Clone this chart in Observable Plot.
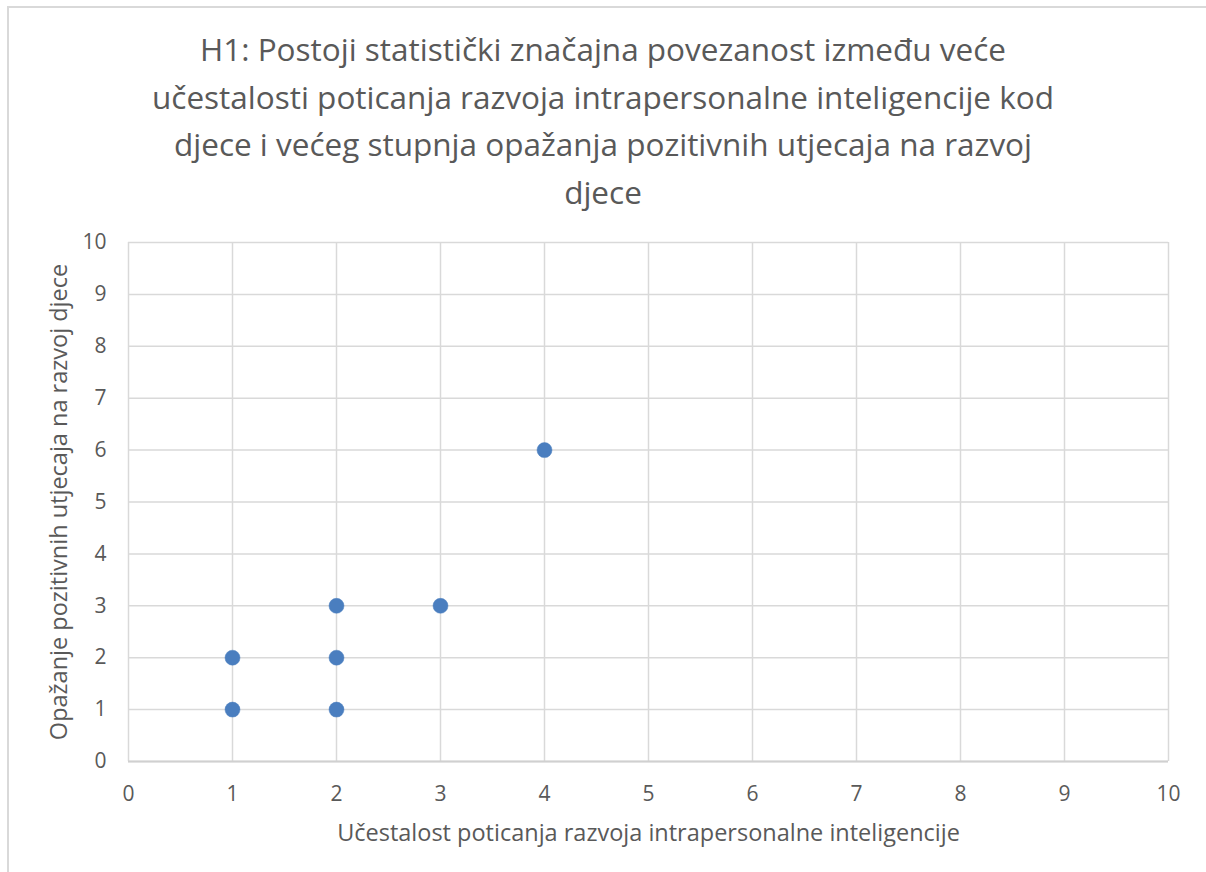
<!DOCTYPE html>
<html>
<head>
<meta charset="utf-8">
<script src="https://cdn.jsdelivr.net/npm/d3@7"></script>
<script src="https://cdn.jsdelivr.net/npm/@observablehq/plot@0.6"></script>
<style>
  html, body { margin: 0; padding: 0; background: #fff; overflow: hidden; }
  #page { position: relative; width: 1206px; height: 872px; overflow: hidden; background: #fff; }
  #frame { position: absolute; left: 7px; top: 6px; width: 1230px; height: 900px; border: 2px solid #d9d9d9; box-sizing: border-box; }
  #title { position: absolute; left: 0; top: 25px; width: 1206px; text-align: center;
           font-family: "Open Sans", sans-serif; font-size: 31.5px; line-height: 47.5px; color: #595959; }
  #chart { position: absolute; left: 0; top: 220px; }
</style>
</head>
<body>
<div id="page">
  <div id="frame"></div>
  <div id="title"></div>
  <div id="chart"></div>
</div>
<script>
const titleLines = [
  "H1: Postoji statistički značajna povezanost između veće",
  "učestalosti poticanja razvoja intrapersonalne inteligencije kod",
  "djece i većeg stupnja opažanja pozitivnih utjecaja na razvoj",
  "djece"
];
const xLabel = "Učestalost poticanja razvoja intrapersonalne inteligencije";
const yLabel = "Opažanje pozitivnih utjecaja na razvoj djece";
const xValues = [1, 1, 2, 2, 2, 3, 4];
const yValues = [1, 2, 1, 2, 3, 3, 6];
const ticks = [0, 1, 2, 3, 4, 5, 6, 7, 8, 9, 10];

document.getElementById("title").innerHTML = titleLines.join("<br>");

const data = xValues.map((x, i) => ({x, y: yValues[i]}));

const plot = Plot.plot({
  width: 1206,
  height: 652,
  marginTop: 22,
  marginBottom: 111,
  marginLeft: 128,
  marginRight: 38,
  style: { fontFamily: "Open Sans, sans-serif", color: "#595959", background: "transparent" },
  x: { domain: [0, 10] },
  y: { domain: [0, 10] },
  marks: [
    Plot.gridX(ticks, { stroke: "#d9d9d9", strokeOpacity: 1, strokeWidth: 1.5 }),
    Plot.gridY(ticks, { stroke: "#d9d9d9", strokeOpacity: 1, strokeWidth: 1.5 }),
    Plot.ruleY([0], { stroke: "#d0d0d0", strokeWidth: 2 }),
    Plot.axisX(ticks, { tickSize: 0, tickPadding: 25, fontSize: 21, fill: "#595959", tickFormat: d3.format("d"),
      label: xLabel, labelAnchor: "center", labelArrow: "none", labelOffset: 79 }),
    Plot.axisY(ticks, { tickSize: 0, tickPadding: 22, fontSize: 21, fill: "#595959", tickFormat: d3.format("d"),
      label: yLabel, labelAnchor: "center", labelArrow: "none", labelOffset: 78 }),
    Plot.dot(data, { x: "x", y: "y", r: 7.5, fill: "#4a7ebf", stroke: "#4a7ebf", strokeWidth: 0.5 })
  ]
});
document.getElementById("chart").appendChild(plot);
plot.querySelectorAll("g[aria-label='x-axis label'] text, g[aria-label='y-axis label'] text").forEach(t => t.setAttribute("font-size", 23.5));
</script>
</body>
</html>
